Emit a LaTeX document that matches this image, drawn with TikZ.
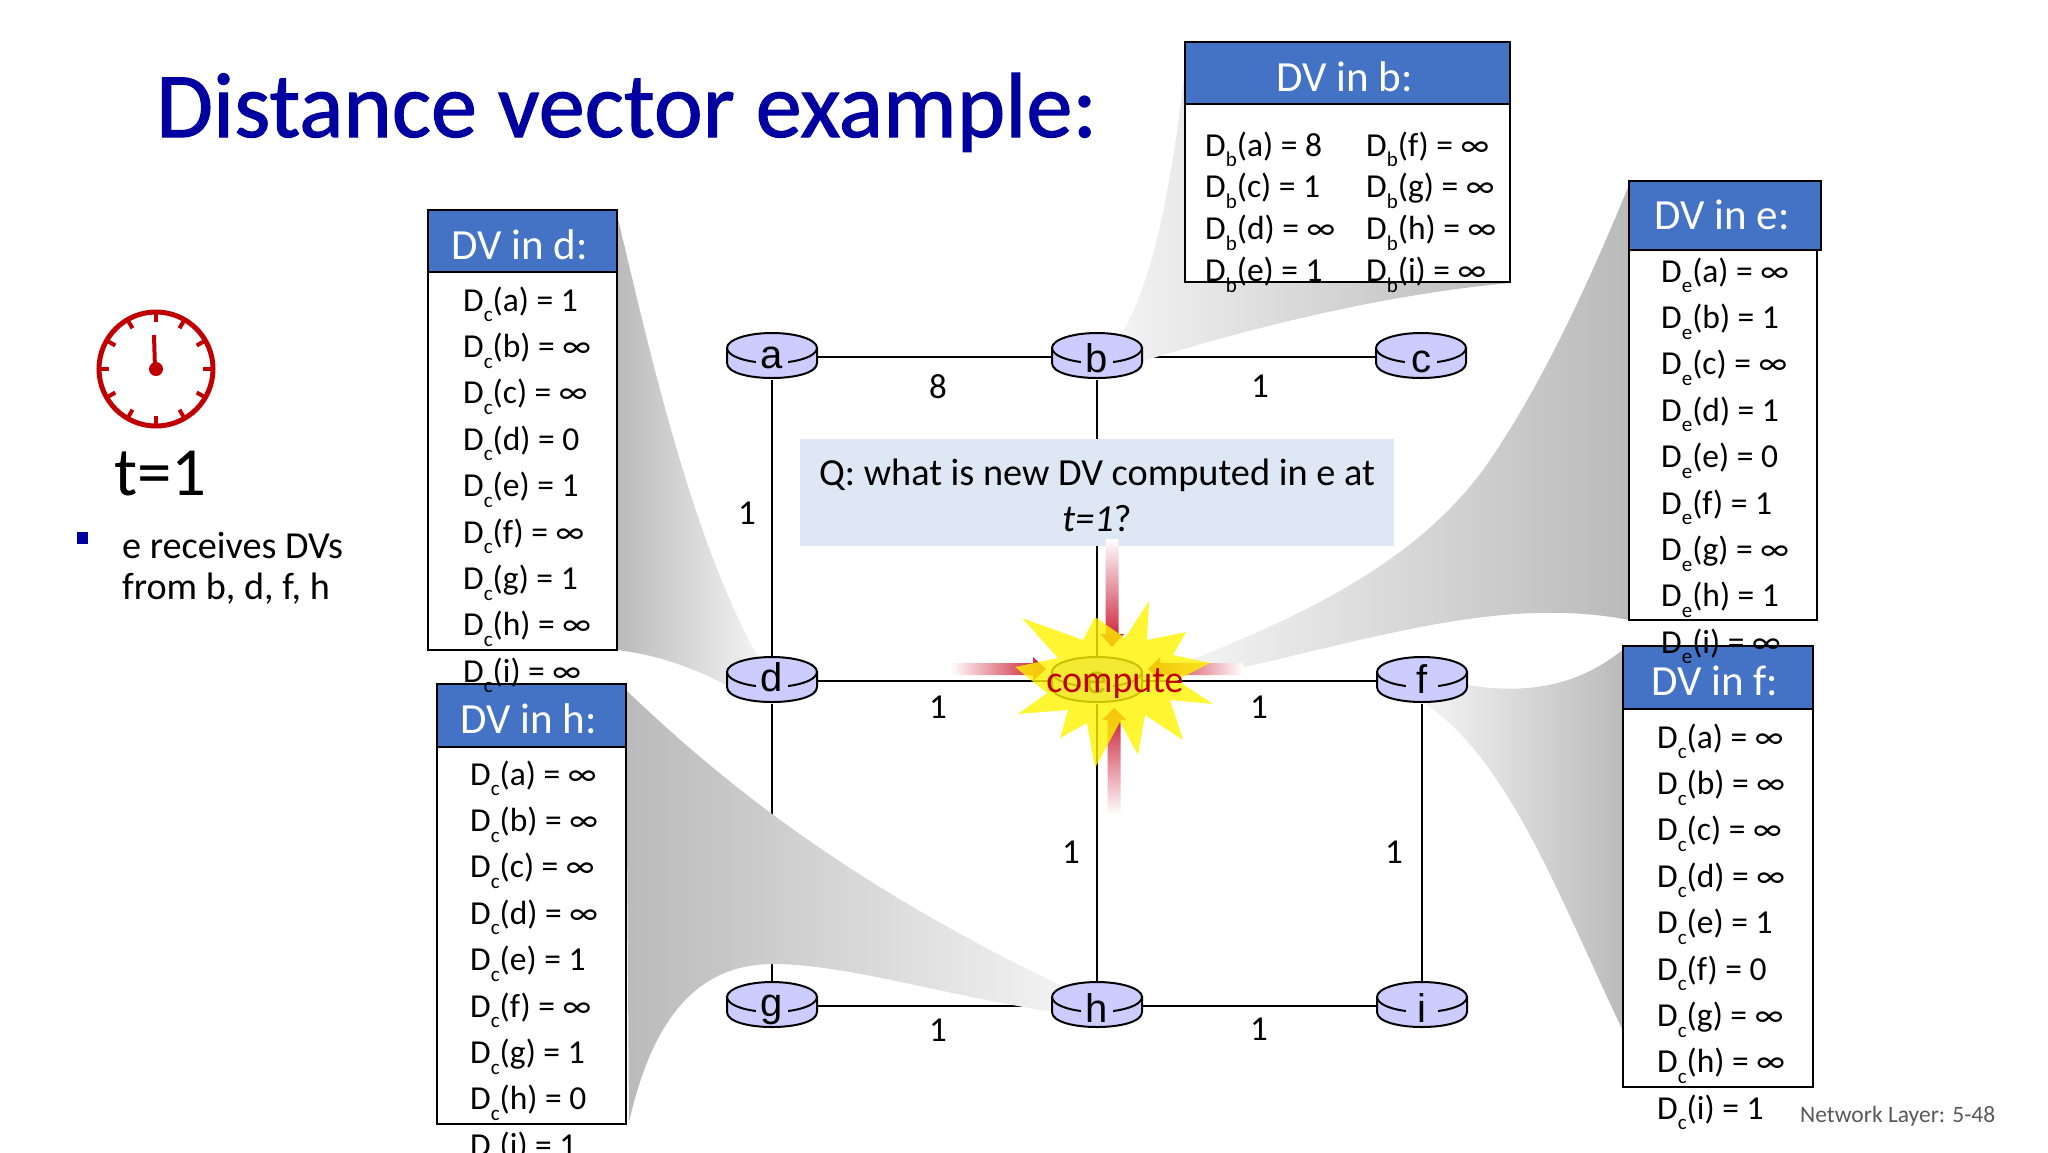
\documentclass[tikz,border=0pt]{standalone}
\usepackage{fontspec}
\usetikzlibrary{positioning, calc}
\setmainfont{Carlito}
\newfontfamily\titlefont[FakeBold=1.2]{Carlito}
\newfontfamily\routerfont{Liberation Sans}

\definecolor{titleblue}{RGB}{0,0,160}
\definecolor{headblue}{RGB}{68,114,196}
\definecolor{routerblue}{RGB}{204,204,255}
\definecolor{askblue}{RGB}{222,232,245}
\definecolor{clockred}{RGB}{192,0,0}
\definecolor{arrowred}{RGB}{200,16,40}
\definecolor{wedgedark}{RGB}{186,186,186}
\definecolor{wedgelight}{RGB}{244,244,244}

\pgfdeclarelayer{linklayer}
\pgfdeclarelayer{wedgelayer}
\pgfsetlayers{linklayer,wedgelayer,main}

\tikzset{
    router/.style={minimum width=90pt, minimum height=46pt, inner sep=0pt, outer sep=0pt},
    routerlab/.style={fill=routerblue, inner sep=0pt, minimum width=32pt, anchor=base,
        font=\routerfont\fontsize{40}{40}\selectfont},
    link/.style={black, line width=2pt},
    cost/.style={font=\fontsize{35}{35}\selectfont, inner sep=0pt},
    dvhead/.style={draw=black, line width=2pt, fill=headblue, text=white, anchor=north west,
        inner sep=0pt, outer sep=0pt, text height=36pt, text depth=0pt,
        execute at end node=\hspace{6pt}, font=\fontsize{43}{43}\selectfont},
    dvbody/.style={draw=black, line width=2pt, fill=white, anchor=north west,
        inner sep=0pt, outer sep=0pt},
    dvrow/.style={anchor=base west, inner sep=0pt, font=\fontsize{33.5}{33.5}\selectfont},
    tick/.style={clockred, line width=4pt}
}

% one router: disc body, top ellipse and its letter
\newcommand{\router}[3]{%
    \node[router] (#1) at (#2) {};
    \begin{scope}[shift={(#2)}]
        \draw[fill=routerblue, line width=2pt] (-45,-9) -- (-45,6) .. controls (-45,26) and (45,26) .. (45,6) -- (45,-9) -- cycle;
        \draw[fill=routerblue, line width=2pt] (0,-9) ellipse [x radius=45, y radius=15];
        \node[routerlab] (#1lab) at (0,#3) {#1};
    \end{scope}
}
\newcommand{\dventry}[3]{D\raisebox{-0.32em}{\fontsize{21}{21}\selectfont #1}(#2) = #3}
% rows of a table: id, subscript, x, first baseline, step, list
\newcommand{\dvrows}[6]{%
    \foreach \r/\v [count=\k from 0] in {#6} {
        \node[dvrow] (#1\r) at (#3, {#4+\k*#5}) {\dventry{#2}{\r}{\v}};
    }
}

\begin{document}
\begin{tikzpicture}[x=1pt, y=-1pt]
    \useasboundingbox (0,0) rectangle (2048,1152);

    % Title
    \node[anchor=base west, inner sep=0pt, text=titleblue, font=\titlefont\fontsize{92.4}{92.4}\selectfont] (title) at (156,137) {Distance vector example:};

    % Clock
    \draw[clockred, line width=5pt] (156,369) circle (57);
    \foreach \a in {0,30,...,330} {
        \draw[tick] ($(156,369)+(\a:58)$) -- ($(156,369)+(\a:47)$);
    }
    \draw[clockred, line width=4pt] (154,335) -- (155,369);
    \fill[clockred] (156,369) circle (7);
    \node[anchor=base west, inner sep=0pt, font=\fontsize{69}{69}\selectfont] (tlabel) at (114,495) {t=1};

    % Bullet
    \fill[titleblue] (77,532) rectangle (88,544);
    \node[anchor=base west, inner sep=0pt, font=\fontsize{38.2}{38.2}\selectfont] (bullet1) at (122,558) {e receives DVs};
    \node[anchor=base west, inner sep=0pt, font=\fontsize{38.2}{38.2}\selectfont] (bullet2) at (122,599) {from b, d, f, h};

    % Routers
    \router{a}{772,357}{11}
    \router{b}{1097,357}{15}
    \router{c}{1421,357}{15}
    \router{d}{772,681}{10}
    \router{f}{1422,681}{12}
    \router{g}{772,1006}{10}
    \router{h}{1097,1006}{16}
    \router{i}{1422,1006}{16}

    % Question box
    \node[fill=askblue, minimum width=594pt, minimum height=107pt, inner sep=0pt] (ask) at (1097,492.5) {};
    \node[inner sep=0pt, align=center, font=\fontsize{38.3}{46}\selectfont] (asktext) at (1097,495) {Q: what is new DV computed in e at\\\textit{t=1}?};

    % Router e sits under the star
    \router{e}{1097,681}{12}

    % Links
    \begin{pgfonlayer}{linklayer}
        \foreach \p/\q in {a/b, b/c, a/d, b/e, d/e, e/f, d/g, e/h, f/i, g/h, h/i} {
            \draw[link] (\p) -- (\q);
        }
    \end{pgfonlayer}

    % Link costs
    \node[cost] (c1) at (938,387) {8};
    \node[cost] (c2) at (1260,386) {1};
    \node[cost] (c3) at (747,513) {1};
    \node[cost] (c4) at (938,707) {1};
    \node[cost] (c5) at (1259,707) {1};
    \node[cost] (c6) at (1071,852) {1};
    \node[cost] (c7) at (1394,852) {1};
    \node[cost] (c8) at (938,1030) {1};
    \node[cost] (c9) at (1259,1029) {1};

    % Wedges from tables to routers
    \begin{pgfonlayer}{wedgelayer}
        \shade[left color=wedgedark, right color=wedgelight] (617,215) .. controls (645,330) and (690,540) .. (760,660) -- (735,690) .. controls (700,670) and (660,655) .. (617,650) -- cycle;
        \shade[left color=wedgedark, right color=wedgelight] (626,690) .. controls (730,790) and (860,890) .. (1070,990) -- (1075,1015) .. controls (960,1000) and (850,964) .. (773,964) .. controls (690,964) and (650,1030) .. (629,1122) -- cycle;
        \shade[left color=wedgelight, right color=wedgedark] (1186,60) .. controls (1170,200) and (1150,300) .. (1110,350) -- (1130,365) .. controls (1250,328) and (1380,295) .. (1510,283) -- (1510,60) -- cycle;
        \shade[left color=wedgelight, right color=wedgedark] (1629,185) .. controls (1590,280) and (1540,390) .. (1483,470) .. controls (1420,555) and (1320,610) .. (1185,662) -- (1205,676) .. controls (1370,640) and (1500,595) .. (1629,620) -- cycle;
        \shade[left color=wedgelight, right color=wedgedark] (1440,680) -- (1467,685) .. controls (1530,695) and (1580,685) .. (1625,648) -- (1625,1035) .. controls (1560,900) and (1510,760) .. (1424,703) -- cycle;
    \end{pgfonlayer}

    % Arrows into e
    \shade[top color=white, middle color=arrowred!80, bottom color=arrowred] (1105.5,539) -- (1118.5,539) -- (1118.5,634) -- (1124,634) -- (1112,647) -- (1100,634) -- (1105.5,634) -- cycle;
    \shade[top color=arrowred, middle color=arrowred!80, bottom color=white] (1114,708) -- (1126,720) -- (1120.5,720) -- (1120.5,815) -- (1107.5,815) -- (1107.5,720) -- (1102,720) -- cycle;
    \shade[left color=white, middle color=arrowred!80, right color=arrowred] (950,663) -- (1033,663) -- (1033,657) -- (1046,669) -- (1033,681) -- (1033,675) -- (950,675) -- cycle;
    \shade[left color=arrowred, middle color=arrowred!80, right color=white] (1148,669) -- (1160,657) -- (1160,663) -- (1243,663) -- (1243,675) -- (1160,675) -- (1160,681) -- cycle;

    % Star
    \fill[yellow, opacity=0.8] (1095,617) -- (1125,638) -- (1149,601) -- (1147,640) -- (1186,632) -- (1173,655) -- (1210,663) -- (1177,680) -- (1213,704) -- (1170,700) -- (1183,740) -- (1145,715) -- (1138,755) -- (1120,722) -- (1095,768) -- (1087,723) -- (1060,738) -- (1068,710) -- (1018,714) -- (1047,693) -- (1015,667) -- (1058,658) -- (1022,618) -- (1083,640) -- cycle;
    \node[anchor=base, inner sep=0pt, text=clockred, font=\fontsize{38}{38}\selectfont] (compute) at (1115,692) {compute};

    % Tables
    \node[dvbody, minimum width=189pt, minimum height=378pt] (dbody) at (428,272) {};
    \node[dvhead, minimum width=189pt, minimum height=62pt] (dhead) at (428,210) {DV in d:};
    \node[dvbody, minimum width=189pt, minimum height=377pt] (hbody) at (437,747) {};
    \node[dvhead, minimum width=189pt, minimum height=63pt] (hhead) at (437,684) {DV in h:};
    \node[dvbody, minimum width=325pt, minimum height=178pt] (bbody) at (1185,104) {};
    \node[dvhead, minimum width=325pt, minimum height=62pt] (bhead) at (1185,42) {DV in b:};
    \node[dvbody, minimum width=188pt, minimum height=370pt] (ebody) at (1629,250) {};
    \node[dvhead, minimum width=192pt, minimum height=69pt, text height=28pt] (ehead) at (1629,181) {DV in e:};
    \node[dvbody, minimum width=190pt, minimum height=378pt] (fbody) at (1623,709) {};
    \node[dvhead, minimum width=190pt, minimum height=63pt] (fhead) at (1623,646) {DV in f:};

    \dvrows{dd}{c}{463}{311}{46.4}{a/1, b/∞, c/∞, d/0, e/1, f/∞, g/1, h/∞, i/∞}
    \dvrows{hh}{c}{470}{785}{46.4}{a/∞, b/∞, c/∞, d/∞, e/1, f/∞, g/1, h/0, i/1}
    \dvrows{ee}{e}{1661}{282}{46.4}{a/∞, b/1, c/∞, d/1, e/0, f/1, g/∞, h/1, i/∞}
    \dvrows{ff}{c}{1657}{748}{46.4}{a/∞, b/∞, c/∞, d/∞, e/1, f/0, g/∞, h/∞, i/1}
    \dvrows{bl}{b}{1205}{156}{41.8}{a/8, c/1, d/∞, e/1}
    \dvrows{br}{b}{1366}{156}{41.8}{f/∞, g/∞, h/∞, i/∞}

    % Page number
    \node[anchor=base west, inner sep=0pt, text=black!65, font=\fontsize{23.5}{23.5}\selectfont] (page) at (1800,1122) {Network Layer: 5-48};
\end{tikzpicture}
\end{document}
